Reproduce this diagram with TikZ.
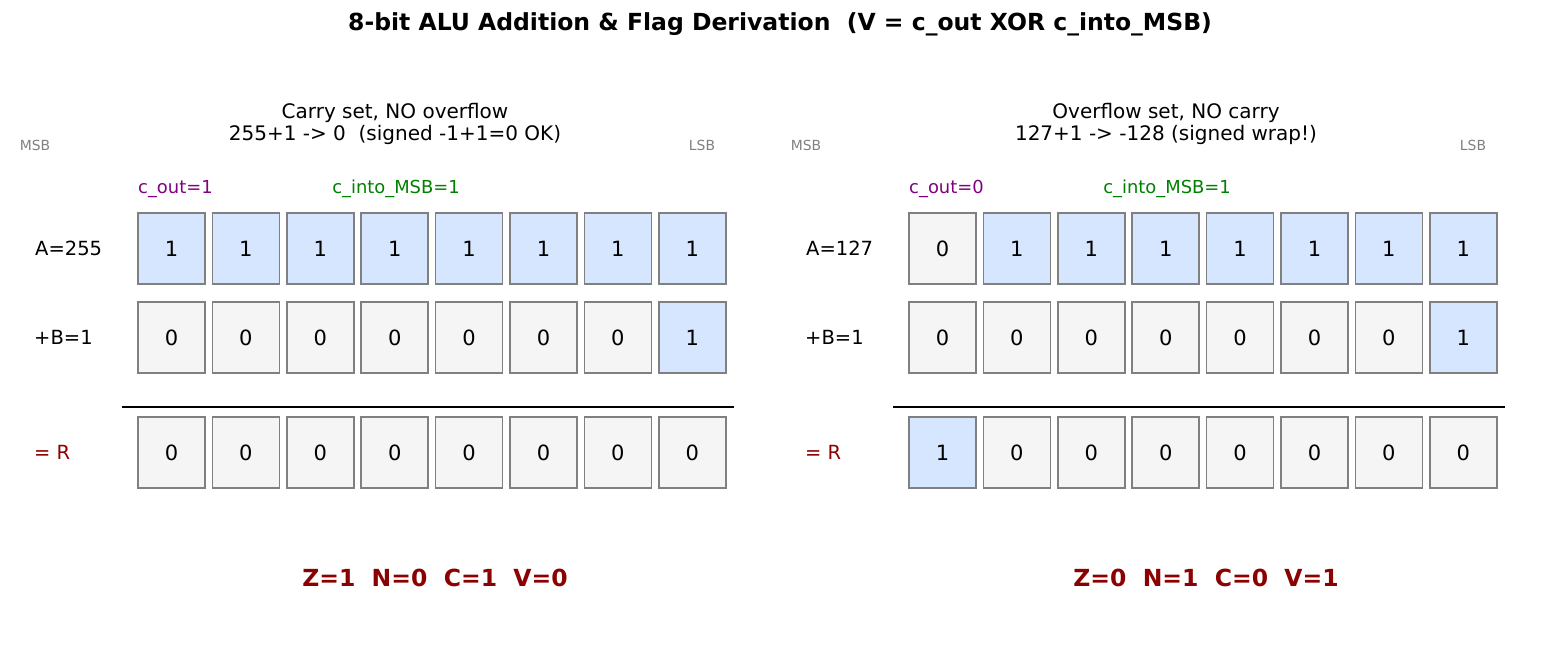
\documentclass[tikz,border=0pt]{standalone}
\usepackage{fontspec}
\setmainfont{DejaVu Sans}
\usetikzlibrary{positioning}

\definecolor{bitone}{HTML}{D6E6FF}
\definecolor{bitzero}{HTML}{F5F5F5}
\definecolor{boxgray}{HTML}{808080}
\definecolor{flagred}{HTML}{8B0000}
\definecolor{coutpurple}{HTML}{800080}
\definecolor{msbgreen}{HTML}{008000}

\tikzset{
    bitbox/.style={draw=boxgray, line width=1.6pt, minimum width=67pt, minimum height=71pt, inner sep=0pt, font=\fontsize{21}{22}\selectfont},
    bit1/.style={bitbox, fill=bitone},
    bit0/.style={bitbox, fill=bitzero},
    rowlabel/.style={anchor=west, inner sep=0pt, font=\fontsize{19.5}{22}\selectfont},
    endlabel/.style={text=boxgray, inner sep=0pt, font=\fontsize{13.9}{15}\selectfont},
    flagtext/.style={text=flagred, font=\bfseries\fontsize{23.5}{26}\selectfont}
}

\begin{document}
\begin{tikzpicture}[x=1pt, y=-1pt]
\useasboundingbox (0,0) rectangle (1560,650);

\node (title) at (780,24) {\bfseries\fontsize{23.5}{26}\selectfont 8-bit ALU Addition \& Flag Derivation\ \ (V = c\_out XOR c\_into\_MSB)};

\foreach \p/\ox/\subone/\subtwo/\aval/\abits/\rbits/\cout/\flags in {
    L/0/{Carry set, NO overflow}/{255+1 -> 0\ \ (signed -1+1=0 OK)}/255/{1,1,1,1,1,1,1,1}/{0,0,0,0,0,0,0,0}/1/{Z=1\ \ N=0\ \ C=1\ \ V=0},
    R/771/{Overflow set, NO carry}/{127+1 -> -128 (signed wrap!)}/127/{0,1,1,1,1,1,1,1}/{1,0,0,0,0,0,0,0}/0/{Z=0\ \ N=1\ \ C=0\ \ V=1}} {
    \node[align=center, font=\fontsize{20}{22}\selectfont] (sub\p) at (\ox+395,124) {\subone\\\subtwo};
    \node[endlabel] (msb\p) at (\ox+35,145) {MSB};
    \node[endlabel] (lsb\p) at (\ox+702,145) {LSB};
    \node[rowlabel, text=coutpurple, font=\fontsize{17.9}{20}\selectfont] (cout\p) at (\ox+138,189) {c\_out=\cout};
    \node[text=msbgreen, inner sep=0pt, font=\fontsize{17.9}{20}\selectfont] (cin\p) at (\ox+396,189) {c\_into\_MSB=1};

    \node[rowlabel] (la\p) at (\ox+35,248) {A=\aval};
    \node[rowlabel] (lb\p) at (\ox+34,337) {+B=1};
    \node[rowlabel, text=flagred] (lr\p) at (\ox+34,452) {= R};

    \foreach \b [count=\i] in \abits
        \node[bit\b] (a\p\i) at (\ox+171.5+74.4*\i-74.4,248.5) {\b};
    \foreach \b [count=\i] in {0,0,0,0,0,0,0,1}
        \node[bit\b] (b\p\i) at (\ox+171.5+74.4*\i-74.4,337.5) {\b};
    \foreach \b [count=\i] in \rbits
        \node[bit\b] (r\p\i) at (\ox+171.5+74.4*\i-74.4,452.5) {\b};

    \draw[line width=1.6pt] ([shift={(-15pt,9pt)}]r\p1.north west) -- ([shift={(7pt,9pt)}]r\p8.north east);

    \node[flagtext] (flags\p) at (\ox+435,578) {\flags};
}
\end{tikzpicture}
\end{document}
